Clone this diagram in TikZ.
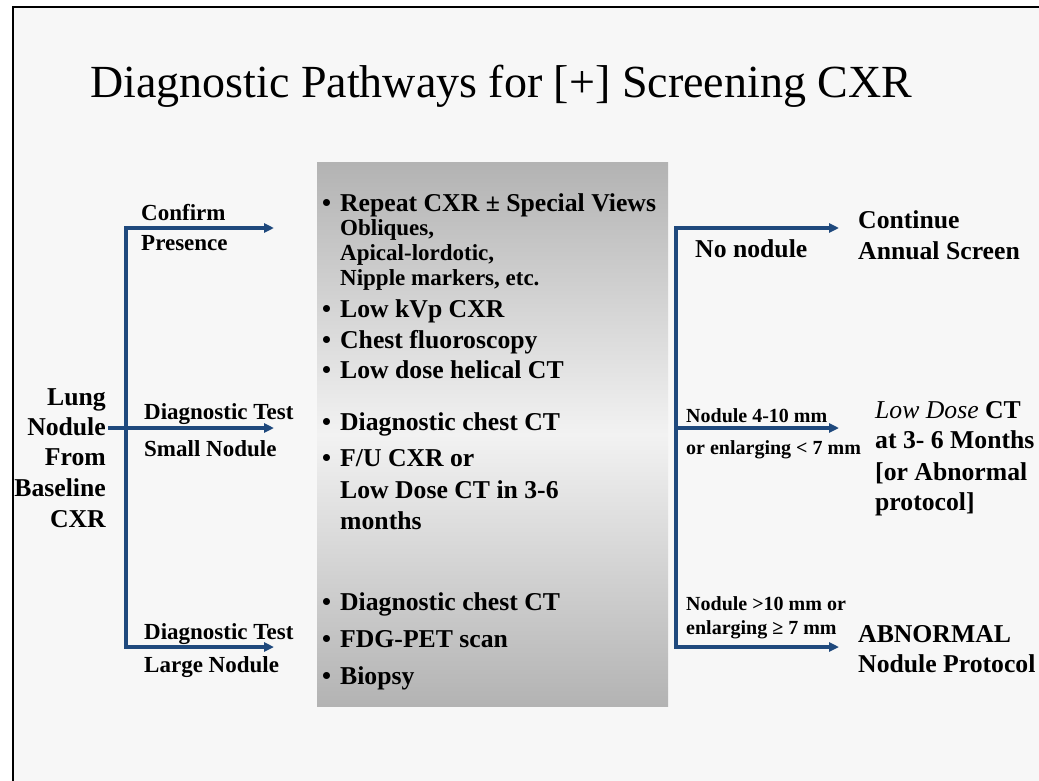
\documentclass[tikz,border=0pt]{standalone}
\usepackage{fontspec}
\setmainfont{Liberation Serif}
\usetikzlibrary{arrows.meta,shadings}
\definecolor{bg}{HTML}{F7F7F7}
\definecolor{flowblue}{RGB}{31,73,125}
\definecolor{boxdark}{HTML}{B3B3B3}
\definecolor{boxlight}{HTML}{F2F2F2}
\tikzset{
  lbl/.style={inner sep=0pt, anchor=base west, font=\fontsize{25.7}{30}\selectfont\bfseries},
  lblr/.style={inner sep=0pt, anchor=base east, font=\fontsize{25.7}{30}\selectfont\bfseries},
  mid/.style={inner sep=0pt, anchor=base west, font=\fontsize{23}{27}\selectfont\bfseries},
  sml/.style={inner sep=0pt, anchor=base west, font=\fontsize{20}{24}\selectfont\bfseries},
  flow/.style={draw=flowblue, line width=3.3pt, line join=miter},
  arr/.style={flow, -{Triangle[length=10pt,width=9pt]}},
}
\newcommand{\bul}{\makebox[18pt][l]{\textbullet}}
\begin{document}
\begin{tikzpicture}[x=1pt,y=-1pt]
\useasboundingbox (0,0) rectangle (1039,781);
\fill[white] (0,0) rectangle (1039,781);
\fill[bg] (13,7.5) rectangle (1039,781);
\draw[line width=2pt] (13,781) -- (13,7.5) -- (1039,7.5);

% title
\node[inner sep=0pt, anchor=base west, font=\fontsize{46}{50}\selectfont] (title) at (90,98) {Diagnostic Pathways for [+] Screening CXR};

% gray box
\shade[top color=boxdark, bottom color=boxdark, middle color=boxlight] (317,163) rectangle (668,706);
\node (box) at (492.5,434.5) [minimum width=351pt, minimum height=543pt, inner sep=0pt] {};

% box contents
\node[lbl] (r1) at (322,211.5) {\bul Repeat CXR ± Special Views};
\node[mid] (s1) at (340,235.6) {Obliques,};
\node[mid] (s2) at (340,260.6) {Apical-lordotic,};
\node[mid] (s3) at (340,285.6) {Nipple markers, etc.};
\node[lbl] (r2) at (322,317.5) {\bul Low kVp CXR};
\node[lbl] (r3) at (322,348.5) {\bul Chest fluoroscopy};
\node[lbl] (r4) at (322,378.5) {\bul Low dose helical CT};
\node[lbl] (m1) at (322,430.5) {\bul Diagnostic chest CT};
\node[lbl] (m2) at (322,466.5) {\bul F/U CXR or};
\node[lbl] (m3) at (340,498.5) {Low Dose CT in 3-6};
\node[lbl] (m4) at (340,529.5) {months};
\node[lbl] (l1) at (322,610.5) {\bul Diagnostic chest CT};
\node[lbl] (l2) at (322,647.5) {\bul FDG-PET scan};
\node[lbl] (l3) at (322,684.5) {\bul Biopsy};

% left source
\node[lblr] (lung) at (106,405.5) {Lung};
\node[lblr] (nodule) at (106,435.5) {Nodule};
\node[lblr] (from) at (106,465.5) {From};
\node[lblr] (baseline) at (106,496.5) {Baseline};
\node[lblr] (cxr) at (106,527.5) {CXR};

% left branch coordinates
\coordinate (j1) at (126,228);
\coordinate (j2) at (126,428);
\coordinate (j3) at (126,647);
\coordinate (t1) at (274,228);
\coordinate (t2) at (274,428);
\coordinate (t3) at (274,647);
\coordinate (n0) at (108,428);

\draw[arr] (j3) -- (j1) -- (t1);
\draw[arr] (j1) -- (j3) -- (t3);
\draw[arr] (n0) -- (t2);

\node[mid] (c1) at (141,220.6) {Confirm};
\node[mid] (c2) at (141,250.6) {Presence};
\node[mid] (d1) at (144,419.6) {Diagnostic Test};
\node[mid] (d2) at (144,456.6) {Small Nodule};
\node[mid] (e1) at (144,639.6) {Diagnostic Test};
\node[mid] (e2) at (144,672.6) {Large Nodule};

% right branch
\coordinate (k1) at (676,228);
\coordinate (k2) at (676,428);
\coordinate (k3) at (676,647);
\coordinate (u1) at (839,228);
\coordinate (u2) at (839,428);
\coordinate (u3) at (839,647);

\draw[arr] (k3) -- (k1) -- (u1);
\draw[arr] (k1) -- (k3) -- (u3);
\draw[arr] (k2) -- (u2);

\node[lbl] (nono) at (695,257.5) {No nodule};
\node[sml] (n1) at (686,422.6) {Nodule 4-10 mm};
\node[sml] (n2) at (686,454.6) {or enlarging < 7 mm};
\node[sml] (n3) at (686,610.6) {Nodule >10 mm or};
\node[sml] (n4) at (686,634.6) {enlarging ≥ 7 mm};

\node[lbl] (o1) at (858,228.5) {Continue};
\node[lbl] (o2) at (858,259.5) {Annual Screen};
\node[lbl] (p1) at (875,418.5) {\normalfont\itshape Low Dose\/ \bfseries\upshape CT};
\node[lbl] (p2) at (875,448.5) {at 3- 6 Months};
\node[lbl] (p3) at (875,480.5) {[or Abnormal};
\node[lbl] (p4) at (875,510.5) {protocol]};
\node[lbl] (q1) at (858,642.5) {ABNORMAL};
\node[lbl] (q2) at (858,672.5) {Nodule Protocol};
\end{tikzpicture}
\end{document}
